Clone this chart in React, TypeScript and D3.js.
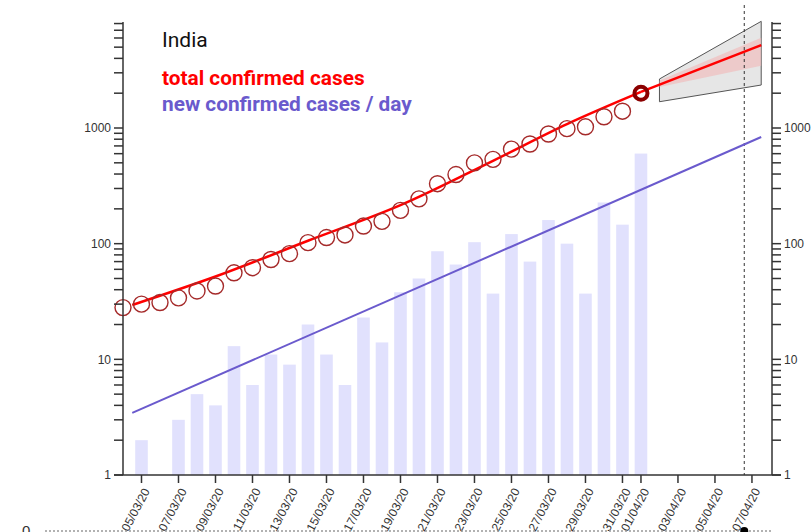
import * as d3 from "d3";
import React from "react";

// daily series, India
const caseDates = [
  "2020-03-04", "2020-03-05", "2020-03-06", "2020-03-07", "2020-03-08", "2020-03-09",
  "2020-03-10", "2020-03-11", "2020-03-12", "2020-03-13", "2020-03-14", "2020-03-15",
  "2020-03-16", "2020-03-17", "2020-03-18", "2020-03-19", "2020-03-20", "2020-03-21",
  "2020-03-22", "2020-03-23", "2020-03-24", "2020-03-25", "2020-03-26", "2020-03-27",
  "2020-03-28", "2020-03-29", "2020-03-30", "2020-03-31", "2020-04-01",
];
const totalCases = [
  28, 30, 31, 34, 39, 43, 56, 62, 73, 82, 102, 113, 119, 142, 156, 194, 244, 330,
  396, 499, 536, 657, 727, 887, 987, 1024, 1251, 1397, 1998,
];
// new cases per day, starting 05/03
const newCases = [
  2, 1, 3, 5, 4, 13, 6, 11, 9, 20, 11, 6, 23, 14, 38, 50, 86, 66, 103, 37, 121, 70,
  160, 100, 37, 227, 146, 601,
];

// fitted curves
const totalFitDates = [
  "2020-03-04 12", "2020-03-09 00", "2020-03-14 00", "2020-03-19 00",
  "2020-03-24 00", "2020-03-28 00", "2020-04-01 00",
];
const totalFitValues = [29.5, 52, 106, 215, 520, 1080, 2050];
const forecastDates = ["2020-04-01 00", "2020-04-07 12"];
const forecastValues = [2050, 5215];
const newFitDates = ["2020-03-04 12", "2020-04-07 12"];
const newFitValues = [3.44, 836];

// forecast uncertainty
const fanDates = ["2020-04-02 00", "2020-04-07 12"];
const fanUpper = [2653, 8360];
const fanLower = [1687, 2353];
const bandUpper = [2575, 6035];
const bandLower = [2262, 3457];

const todayLine = "2020-04-06 14";

const tickDates = [
  "2020-03-05", "2020-03-07", "2020-03-09", "2020-03-11", "2020-03-13", "2020-03-15",
  "2020-03-17", "2020-03-19", "2020-03-21", "2020-03-23", "2020-03-25", "2020-03-27",
  "2020-03-29", "2020-03-31", "2020-04-01", "2020-04-03", "2020-04-05", "2020-04-07",
];
const majorTicks = [1, 10, 100, 1000];

const parseDay = d3.timeParse("%Y-%m-%d");
const parseHour = d3.timeParse("%Y-%m-%d %H");
const fmt = d3.timeFormat("%d/%m/%y");

const W = 811;
const H = 532;

const App: React.FC = () => {
  const x = d3
    .scaleTime()
    .domain([parseHour("2020-03-04 00")!, parseHour("2020-04-08 02")!])
    .range([123, 772]);
  const y = d3.scaleLog().domain([1, 8250]).range([475, 22]);

  const minorTicks: number[] = [];
  for (let dec = 1; dec <= 1000; dec *= 10) {
    for (let k = 2; k <= 9; k++) {
      if (dec * k <= 8250) minorTicks.push(dec * k);
    }
  }

  const line = d3
    .line<[Date, number]>()
    .x((d) => x(d[0]))
    .y((d) => y(d[1]));
  const smooth = d3
    .line<[Date, number]>()
    .x((d) => x(d[0]))
    .y((d) => y(d[1]))
    .curve(d3.curveMonotoneX);
  const area = d3
    .area<[Date, number, number]>()
    .x((d) => x(d[0]))
    .y0((d) => y(d[1]))
    .y1((d) => y(d[2]));

  const fan = fanDates.map((d, i) => [parseHour(d)!, fanLower[i], fanUpper[i]] as [Date, number, number]);
  const band = fanDates.map((d, i) => [parseHour(d)!, bandLower[i], bandUpper[i]] as [Date, number, number]);
  const totalFit = totalFitDates.map((d, i) => [parseHour(d)!, totalFitValues[i]] as [Date, number]);
  const forecast = forecastDates.map((d, i) => [parseHour(d)!, forecastValues[i]] as [Date, number]);
  const newFit = newFitDates.map((d, i) => [parseHour(d)!, newFitValues[i]] as [Date, number]);

  const barW = 12.6;
  const axisColor = "#333";
  const tickFont = "Liberation Sans, Arial, sans-serif";
  const last = totalCases.length - 1;

  return (
    <svg
      width={W}
      height={H}
      style={{ position: "absolute", left: 0, top: 0, background: "#fff" }}
    >
      {/* bars: new cases per day */}
      <g fill="#e1e1fd">
        {newCases.map((v, i) => {
          const cx = x(parseDay(caseDates[i + 1])!);
          return (
            <rect
              key={i}
              x={cx - barW / 2}
              y={y(v)}
              width={barW}
              height={y(1) - y(v)}
            />
          );
        })}
      </g>

      {/* forecast fan */}
      <path d={area(fan)!} fill="#e6e6e6" stroke="#555" strokeWidth={1} />
      <path d={area(band)!} fill="#f2b8b8" opacity={0.6} />

      {/* today */}
      <line
        x1={x(parseHour(todayLine)!)}
        x2={x(parseHour(todayLine)!)}
        y1={5}
        y2={475}
        stroke="#333"
        strokeWidth={1}
        strokeDasharray="3,3"
      />

      {/* fits */}
      <path d={line(newFit)!} fill="none" stroke="#6a5acd" strokeWidth={2} />
      <path d={smooth(totalFit)!} fill="none" stroke="#ff0000" strokeWidth={2.5} />
      <path d={line(forecast)!} fill="none" stroke="#ff0000" strokeWidth={2.5} />

      {/* total cases */}
      <g fill="none">
        {totalCases.map((v, i) =>
          i === last ? null : (
            <circle
              key={i}
              cx={x(parseDay(caseDates[i])!)}
              cy={y(v)}
              r={8}
              stroke="#a52a2a"
              strokeWidth={1.4}
            />
          )
        )}
        <circle
          cx={x(parseDay(caseDates[last])!)}
          cy={y(totalCases[last])}
          r={6.5}
          stroke="#8b0000"
          strokeWidth={4}
        />
      </g>

      {/* axes */}
      <g stroke={axisColor} strokeWidth={1.5}>
        <line x1={123} x2={123} y1={22} y2={475} />
        <line x1={772} x2={772} y1={22} y2={475} />
        <line x1={114} x2={781} y1={475} y2={475} />
        {majorTicks.concat(minorTicks).map((t) => (
          <React.Fragment key={t}>
            <line x1={114} x2={123} y1={y(t)} y2={y(t)} />
            <line x1={772} x2={781} y1={y(t)} y2={y(t)} />
          </React.Fragment>
        ))}
        {tickDates.map((d) => {
          const tx = x(parseDay(d)!);
          return <line key={d} x1={tx} x2={tx} y1={475} y2={483} />;
        })}
      </g>
      <g fontFamily={tickFont} fontSize={12} fill="#333">
        {majorTicks.map((t) => (
          <React.Fragment key={t}>
            <text x={111} y={y(t)} dy="0.35em" textAnchor="end">
              {t}
            </text>
            <text x={784} y={y(t)} dy="0.35em" textAnchor="start">
              {t}
            </text>
          </React.Fragment>
        ))}
        {tickDates.map((d) => {
          const tx = x(parseDay(d)!) + 5;
          return (
            <text
              key={d}
              x={tx}
              y={489}
              textAnchor="end"
              dy="0.35em"
              transform={`rotate(-62, ${tx}, 489)`}
            >
              {fmt(parseDay(d)!)}
            </text>
          );
        })}
      </g>

      {/* legend */}
      <g fontFamily="Roboto, Liberation Sans, sans-serif">
        <text x={162} y={47} fontSize={21} fill="#111">
          India
        </text>
        <text x={162} y={85} fontSize={20.8} fontWeight={700} fill="#ff0000">
          total confirmed cases
        </text>
        <text x={162} y={111} fontSize={20.8} fontWeight={700} fill="#6a5acd">
          new confirmed cases / day
        </text>
      </g>

      {/* top of the next panel */}
      <text x={22} y={536} fontFamily={tickFont} fontSize={15} fill="#333">
        0
      </text>
      <line
        x1={45}
        x2={772}
        y1={531}
        y2={531}
        stroke="#999"
        strokeWidth={1.5}
        strokeDasharray="2,2"
      />
      <circle cx={x(parseHour(todayLine)!)} cy={531} r={4} fill="#000" />
    </svg>
  );
};

export default App;
